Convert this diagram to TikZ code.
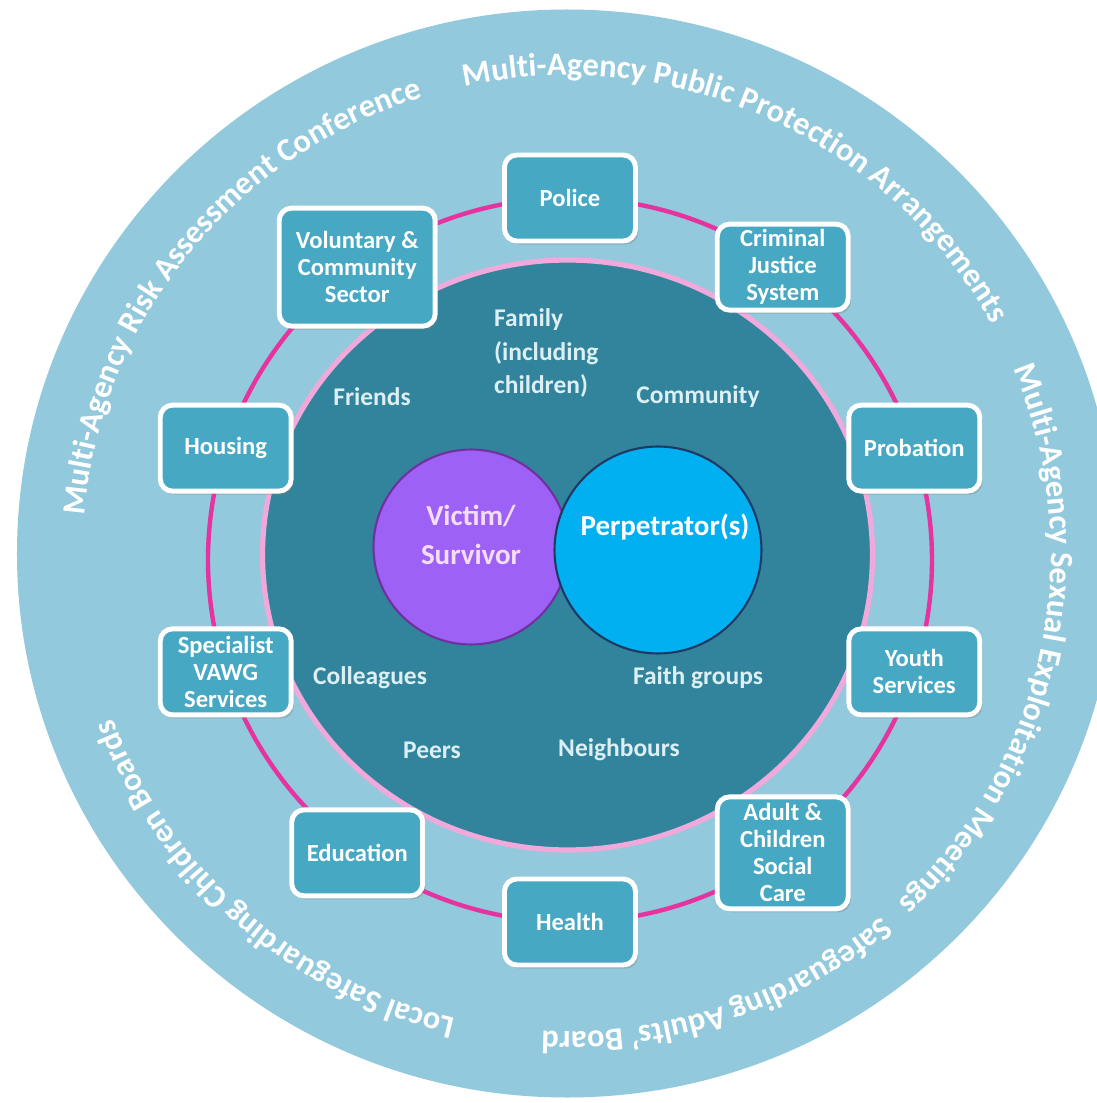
\documentclass[tikz,border=0pt]{standalone}
\usepackage{fontspec}
\setmainfont{Carlito}
\usepackage{tikz}
\usetikzlibrary{positioning, calc}
\usetikzlibrary{decorations.text}
\usetikzlibrary{shadows,backgrounds}

\definecolor{ringblue}{HTML}{92C9DC}
\definecolor{diskteal}{HTML}{31849B}
\definecolor{boxblue}{HTML}{47A8C3}
\definecolor{ringpink}{HTML}{E6339F}
\definecolor{diskpink}{HTML}{EFA9DA}
\definecolor{victimpurple}{HTML}{9E61F5}
\definecolor{victimline}{HTML}{7030A0}
\definecolor{perpblue}{HTML}{00B0F0}
\definecolor{perpline}{HTML}{1F3864}
\definecolor{labelwhite}{HTML}{DCEFF4}
\definecolor{victimtext}{HTML}{F3DDF8}

\newcommand{\ringfont}{\bfseries\fontsize{18.5}{20}\selectfont}
\newcommand{\ringtext}[3]{
    \path[decorate, decoration={text along path, text color=white, text={|\ringfont|#3}}]
        (-3,6.5) ++(#1:484 and 478) arc[start angle=#1, end angle=#2, x radius=484, y radius=478];
}
\newcommand{\ringlink}[4]{
    \draw[link] (#1.center) arc[start angle=#3, end angle=#4, radius=362];
}

\begin{document}
\begin{tikzpicture}[x=0.02cm, y=0.02cm,
    agency/.style={draw=white, line width=2.8pt, fill=boxblue, rounded corners=7pt,
        minimum width=2.62cm, minimum height=1.72cm, align=center, text=white,
        font=\bfseries\fontsize{14}{15.4}\selectfont, inner sep=1pt,
        drop shadow={opacity=0.35, shadow xshift=1.5pt, shadow yshift=-2pt}},
    circlelabel/.style={text=labelwhite, align=center, font=\bfseries\fontsize{14.5}{18.8}\selectfont},
    link/.style={ringpink, line width=2.5pt}]
                    \useasboundingbox (-570,-543) rectangle (527,560);
                    \begin{scope}[on background layer]
                    \fill[white] (-570,-543) rectangle (527,560);
                    \fill[ringblue] (-3,6.5) ellipse [x radius=550, y radius=544];
                    \ringtext{102.2}{15}{Multi-Agency Public Protection Arrangements}
                    \ringtext{175.5}{95}{Multi-Agency Risk Assessment Conference}
                    \ringtext{22.7}{-60}{Multi-Agency Sexual Exploitation Meetings}
                    \ringtext{-49.4}{-100}{Safeguarding Adults' Board}
                    \ringtext{-103.3}{-200}{Local Safeguarding Children Boards}
                    \draw[diskpink, line width=3pt, fill=diskteal] (-2.5,5) ellipse [x radius=305, y radius=295];
                    \end{scope}

                    \node[circle, draw=victimline, line width=1.2pt, fill=victimpurple, minimum size=3.9cm] (victim) at (-99,13) {};
                    \node[circle, draw=perpline, line width=1.2pt, fill=perpblue, minimum size=4.14cm] (perp) at (88,10) {};
                    \node[align=center, text=victimtext, font=\bfseries\fontsize{16.5}{22}\selectfont] (victimlbl) at (-99,25) {Victim/\\Survivor};
                    \node[text=white, font=\bfseries\fontsize{16.5}{22}\selectfont] (perplbl) at (95,33) {Perpetrator(s)};

                    \node[circlelabel, align=left, anchor=west] (family) at (-82,207) {Family\\(including\\children)};
                    \node[circlelabel] (friends) at (-198,163) {Friends};
                    \node[circlelabel] (community) at (128,163) {Community};
                    \node[circlelabel] (colleagues) at (-200,-118) {Colleagues};
                    \node[circlelabel] (faith) at (128,-118) {Faith groups};
                    \node[circlelabel] (peers) at (-138,-190) {Peers};
                    \node[circlelabel] (neighbours) at (49,-190) {Neighbours};

                    \node[agency] (police) at (90:362) {Police};
                    \node[agency] (justice) at (54:362) {Criminal\\Justice\\System};
                    \node[agency] (probation) at (18:362) {Probation};
                    \node[agency] (youth) at (-18:362) {Youth\\Services};
                    \node[agency, minimum height=2.24cm] (socialcare) at (-54:362) {Adult \&\\Children\\Social\\Care};
                    \node[agency] (health) at (-90:362) {Health};
                    \node[agency] (education) at (-126:362) {Education};
                    \node[agency] (vawg) at (-162:362) {Specialist\\VAWG\\Services};
                    \node[agency] (housing) at (162:362) {Housing};
                    \node[agency, minimum width=3.12cm, minimum height=2.36cm] (voluntary) at (126:362) {Voluntary \&\\Community\\Sector};

                    \begin{scope}[on background layer]
                    \ringlink{police}{justice}{90}{54}
                    \ringlink{justice}{probation}{54}{18}
                    \ringlink{probation}{youth}{18}{-18}
                    \ringlink{youth}{socialcare}{-18}{-54}
                    \ringlink{socialcare}{health}{-54}{-90}
                    \ringlink{health}{education}{-90}{-126}
                    \ringlink{education}{vawg}{-126}{-162}
                    \ringlink{vawg}{housing}{-162}{-198}
                    \ringlink{housing}{voluntary}{162}{126}
                    \ringlink{voluntary}{police}{126}{90}
                    \end{scope}
                \end{tikzpicture}
\end{document}
